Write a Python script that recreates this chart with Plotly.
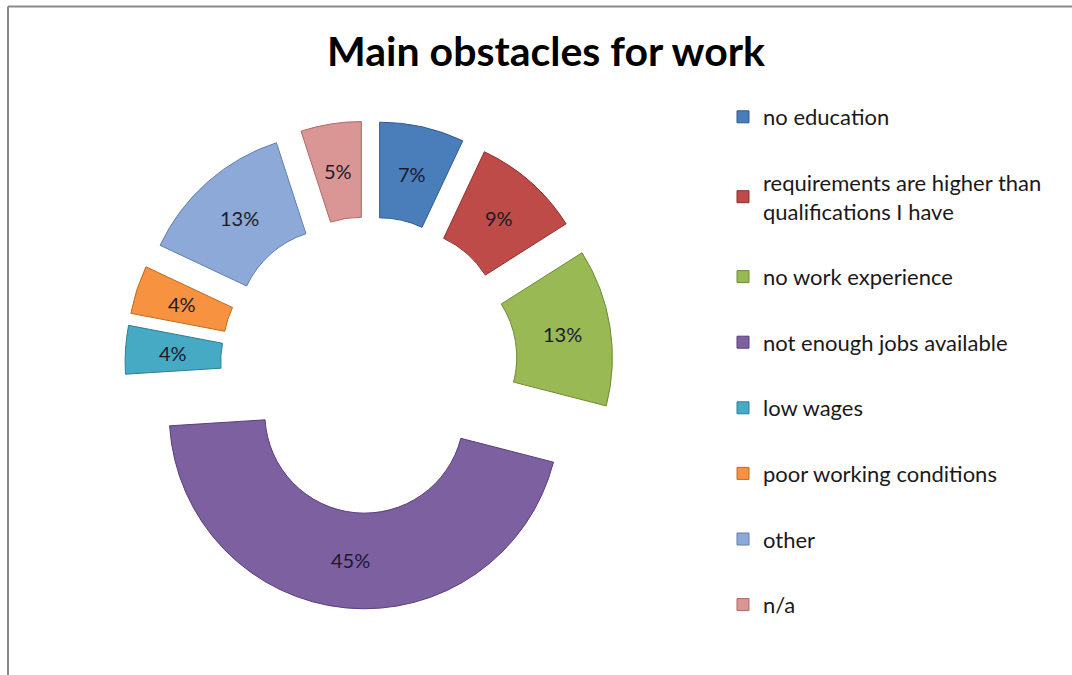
import math
import plotly.graph_objects as go

# ---- data ----
labels = [
    "no education",
    "requirements are higher than<br>qualifications I have",
    "no work experience",
    "not enough jobs available",
    "low wages",
    "poor working conditions",
    "other",
    "n/a",
]
values = [7, 9, 13, 45, 4, 4, 13, 5]
colors = ["#4A7EBB", "#BE4B48", "#98B954", "#7D60A0", "#46AAC5", "#F69240", "#8DA9D8", "#D99694"]
edges = ["#2E5A8E", "#8E2E2C", "#6E8C35", "#573F7A", "#2C7F98", "#C06A20", "#5F7FB0", "#B06866"]
title_text = "Main obstacles for work"

W, H = 1072, 675
cx, cy = 369, 365          # donut centre in px (from top-left)
ext = 244                  # half size of pie box in px
PULL = 0.25
HOLE = 0.51

fig = go.Figure()
fig.add_trace(go.Pie(
    labels=labels,
    values=values,
    sort=False,
    direction="clockwise",
    rotation=0,
    hole=HOLE,
    pull=[PULL] * len(values),
    marker=dict(colors=colors, line=dict(color=edges, width=1)),
    textinfo="none",
    showlegend=False,
    domain=dict(x=[(cx - ext) / W, (cx + ext) / W],
                y=[(H - cy - ext) / H, (H - cy + ext) / H]),
    hoverinfo="label+percent",
))

# percentage labels centred in each (pulled) ring segment, derived from the data
R = ext / (1 + PULL)
dist = PULL * R + R * (1 + HOLE) / 2
total = sum(values)
annotations = []
cum = 0
for v in values:
    mid = (cum + v / 2) / total * 2 * math.pi
    cum += v
    px = cx + dist * math.sin(mid)
    py = cy - dist * math.cos(mid)
    annotations.append(dict(
        x=px / W, y=1 - py / H, xref="paper", yref="paper",
        text=f"{round(v / total * 100)}%", showarrow=False,
        xanchor="center", yanchor="middle",
        font=dict(family="Lato", size=20, color="#1a1a2a"),
    ))

# legend entries (one group each so tracegroupgap spaces them)
for i, (lab, col, ec) in enumerate(zip(labels, colors, edges)):
    fig.add_trace(go.Scatter(
        x=[None], y=[None], mode="markers", name=lab,
        legendgroup=f"g{i}",
        marker=dict(symbol="square", size=12, color=col, line=dict(color=ec, width=1)),
        hoverinfo="skip",
    ))

fig.update_layout(
    width=W, height=H,
    margin=dict(l=0, r=0, t=0, b=0),
    paper_bgcolor="white",
    plot_bgcolor="white",
    xaxis=dict(visible=False),
    yaxis=dict(visible=False),
    title=dict(text=f"<b>{title_text}</b>", x=546 / W, xanchor="center",
               y=1 - 52 / H, yanchor="middle",
               font=dict(family="Lato", size=41, color="black")),
    legend=dict(x=723 / W, xanchor="left", y=1 - 96 / H, yanchor="top",
                font=dict(family="Lato", size=22, color="#1a1a1a"),
                tracegroupgap=34, itemclick=False, itemdoubleclick=False,
                bgcolor="rgba(0,0,0,0)"),
    annotations=annotations,
    shapes=[
        dict(type="line", xref="paper", yref="paper", x0=8 / W, x1=1, y0=1 - 6.5 / H, y1=1 - 6.5 / H,
             line=dict(color="#8a8a8a", width=2)),
        dict(type="line", xref="paper", yref="paper", x0=8 / W, x1=8 / W, y0=0, y1=1 - 6.5 / H,
             line=dict(color="#8a8a8a", width=2)),
    ],
)

fig.write_html("out.html")
